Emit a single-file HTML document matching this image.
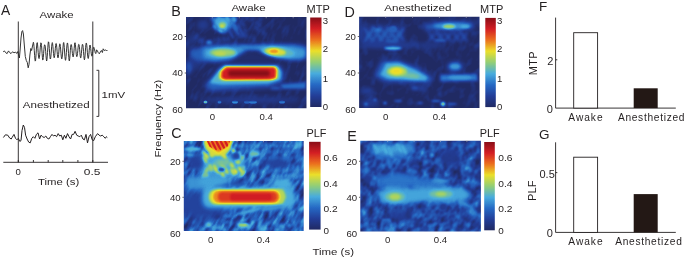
<!DOCTYPE html><html><head><meta charset="utf-8"><style>
html,body{margin:0;padding:0;background:#fff;}
svg{display:block;font-family:"Liberation Sans",sans-serif;will-change:transform;}
</style></head><body>
<svg width="685" height="258" viewBox="0 0 685 258">
<defs>
<filter id="jet" x="0" y="0" width="100%" height="100%" color-interpolation-filters="sRGB"><feComponentTransfer><feFuncR type="table" tableValues="0.129 0.137 0.149 0.282 0.569 0.925 0.925 0.831 0.541"/><feFuncG type="table" tableValues="0.165 0.243 0.412 0.675 0.808 0.878 0.439 0.118 0.055"/><feFuncB type="table" tableValues="0.392 0.596 0.769 0.871 0.471 0.165 0.118 0.141 0.094"/></feComponentTransfer></filter>
<filter id="g0.6" x="-100%" y="-100%" width="300%" height="300%" color-interpolation-filters="sRGB"><feGaussianBlur stdDeviation="0.6"/></filter><filter id="g0.8" x="-100%" y="-100%" width="300%" height="300%" color-interpolation-filters="sRGB"><feGaussianBlur stdDeviation="0.8"/></filter><filter id="g0.9" x="-100%" y="-100%" width="300%" height="300%" color-interpolation-filters="sRGB"><feGaussianBlur stdDeviation="0.9"/></filter><filter id="g1.0" x="-100%" y="-100%" width="300%" height="300%" color-interpolation-filters="sRGB"><feGaussianBlur stdDeviation="1.0"/></filter><filter id="g1" x="-100%" y="-100%" width="300%" height="300%" color-interpolation-filters="sRGB"><feGaussianBlur stdDeviation="1"/></filter><filter id="g1.1" x="-100%" y="-100%" width="300%" height="300%" color-interpolation-filters="sRGB"><feGaussianBlur stdDeviation="1.1"/></filter><filter id="g1.2" x="-100%" y="-100%" width="300%" height="300%" color-interpolation-filters="sRGB"><feGaussianBlur stdDeviation="1.2"/></filter><filter id="g1.3" x="-100%" y="-100%" width="300%" height="300%" color-interpolation-filters="sRGB"><feGaussianBlur stdDeviation="1.3"/></filter><filter id="g1.4" x="-100%" y="-100%" width="300%" height="300%" color-interpolation-filters="sRGB"><feGaussianBlur stdDeviation="1.4"/></filter><filter id="g1.5" x="-100%" y="-100%" width="300%" height="300%" color-interpolation-filters="sRGB"><feGaussianBlur stdDeviation="1.5"/></filter><filter id="g1.6" x="-100%" y="-100%" width="300%" height="300%" color-interpolation-filters="sRGB"><feGaussianBlur stdDeviation="1.6"/></filter><filter id="g1.8" x="-100%" y="-100%" width="300%" height="300%" color-interpolation-filters="sRGB"><feGaussianBlur stdDeviation="1.8"/></filter><filter id="g2" x="-100%" y="-100%" width="300%" height="300%" color-interpolation-filters="sRGB"><feGaussianBlur stdDeviation="2"/></filter><filter id="g2.2" x="-100%" y="-100%" width="300%" height="300%" color-interpolation-filters="sRGB"><feGaussianBlur stdDeviation="2.2"/></filter><filter id="g2.5" x="-100%" y="-100%" width="300%" height="300%" color-interpolation-filters="sRGB"><feGaussianBlur stdDeviation="2.5"/></filter><filter id="g3" x="-100%" y="-100%" width="300%" height="300%" color-interpolation-filters="sRGB"><feGaussianBlur stdDeviation="3"/></filter><filter id="g4" x="-100%" y="-100%" width="300%" height="300%" color-interpolation-filters="sRGB"><feGaussianBlur stdDeviation="4"/></filter>
<filter id="tB" x="0" y="0" width="100%" height="100%" color-interpolation-filters="sRGB"><feTurbulence type="fractalNoise" baseFrequency="0.08 0.2" numOctaves="2" seed="4"/><feColorMatrix type="matrix" values="1 0 0 0 0  1 0 0 0 0  1 0 0 0 0  0 0 0 0 1"/><feComponentTransfer><feFuncR type="linear" slope="0.25" intercept="-0.115"/><feFuncG type="linear" slope="0.25" intercept="-0.115"/><feFuncB type="linear" slope="0.25" intercept="-0.115"/></feComponentTransfer></filter>
<filter id="tC" x="0" y="0" width="100%" height="100%" color-interpolation-filters="sRGB"><feTurbulence type="fractalNoise" baseFrequency="0.08 0.2" numOctaves="2" seed="7"/><feColorMatrix type="matrix" values="1 0 0 0 0  1 0 0 0 0  1 0 0 0 0  0 0 0 0 1"/><feComponentTransfer><feFuncR type="linear" slope="0.65" intercept="-0.12"/><feFuncG type="linear" slope="0.65" intercept="-0.12"/><feFuncB type="linear" slope="0.65" intercept="-0.12"/></feComponentTransfer></filter>
<filter id="tD" x="0" y="0" width="100%" height="100%" color-interpolation-filters="sRGB"><feTurbulence type="fractalNoise" baseFrequency="0.1 0.14" numOctaves="2" seed="9"/><feColorMatrix type="matrix" values="1 0 0 0 0  1 0 0 0 0  1 0 0 0 0  0 0 0 0 1"/><feComponentTransfer><feFuncR type="linear" slope="0.25" intercept="-0.115"/><feFuncG type="linear" slope="0.25" intercept="-0.115"/><feFuncB type="linear" slope="0.25" intercept="-0.115"/></feComponentTransfer></filter>
<filter id="tE" x="0" y="0" width="100%" height="100%" color-interpolation-filters="sRGB"><feTurbulence type="fractalNoise" baseFrequency="0.11 0.15" numOctaves="2" seed="12"/><feColorMatrix type="matrix" values="1 0 0 0 0  1 0 0 0 0  1 0 0 0 0  0 0 0 0 1"/><feComponentTransfer><feFuncR type="linear" slope="0.5" intercept="-0.1"/><feFuncG type="linear" slope="0.5" intercept="-0.1"/><feFuncB type="linear" slope="0.5" intercept="-0.1"/></feComponentTransfer></filter>
<linearGradient id="cbar" x1="0" y1="1" x2="0" y2="0"><stop offset="0.0" stop-color="rgb(0,0,0)"/><stop offset="0.125" stop-color="rgb(32,32,32)"/><stop offset="0.25" stop-color="rgb(64,64,64)"/><stop offset="0.375" stop-color="rgb(96,96,96)"/><stop offset="0.5" stop-color="rgb(128,128,128)"/><stop offset="0.625" stop-color="rgb(159,159,159)"/><stop offset="0.75" stop-color="rgb(191,191,191)"/><stop offset="0.875" stop-color="rgb(223,223,223)"/><stop offset="1.0" stop-color="rgb(255,255,255)"/></linearGradient>
<clipPath id="cB"><rect x="186" y="17" width="120.5" height="91.2"/></clipPath>
<clipPath id="cC"><rect x="183.8" y="140.9" width="119.9" height="90.1"/></clipPath>
<clipPath id="cD"><rect x="359.1" y="16.7" width="120.4" height="91.4"/></clipPath>
<clipPath id="cE"><rect x="360.3" y="140.8" width="120.6" height="90.6"/></clipPath>
<clipPath id="cHot"><polygon points="206.5,140 230.5,140 227.5,146.5 218.5,152 209.5,146.5"/></clipPath>
</defs>
<rect width="685" height="258" fill="#fff"/>
<text x="1.0" y="14.7" font-size="13.8" fill="#231f20">A</text>
<text x="39.6" y="17.8" font-size="9.8" textLength="34.0" lengthAdjust="spacingAndGlyphs" fill="#231f20">Awake</text>
<text x="22.8" y="107.7" font-size="9.6" textLength="66.8" lengthAdjust="spacingAndGlyphs" fill="#231f20">Anesthetized</text>
<text x="101.6" y="98.35" font-size="9.5" textLength="23.6" lengthAdjust="spacingAndGlyphs" fill="#231f20">1mV</text>
<g stroke="#231f20" stroke-width="0.9" fill="none">
<line x1="18.3" y1="21.5" x2="18.3" y2="162.3"/>
<line x1="92.8" y1="21.5" x2="92.8" y2="162.3"/>
<path d="M96.5,70.3 H98.8 V116.4 H96.5"/>
<line x1="3.3" y1="162.3" x2="108" y2="162.3"/>
<line x1="18.3" y1="160" x2="18.3" y2="162.3"/>
<line x1="33.4" y1="160" x2="33.4" y2="162.3"/>
<line x1="48.2" y1="160" x2="48.2" y2="162.3"/>
<line x1="62.8" y1="160" x2="62.8" y2="162.3"/>
<line x1="77.9" y1="160" x2="77.9" y2="162.3"/>
<line x1="92.8" y1="160" x2="92.8" y2="162.3"/>
</g>
<polyline points="3.2,51.8 4.4,50.9 5.7,52.7 7.1,53.6 8.5,50.9 9.8,52.7 11.0,53.6 12.5,51.8 13.9,52.7 15.7,52.3 17.0,53.4 17.9,51.5 18.8,56.5 19.4,58.0 20.1,50.0 21.0,38.0 21.9,31.5 22.6,30.6 23.4,34.0 24.3,45.0 25.3,56.5 26.3,60.5 27.3,62.5 28.2,67.8 29.0,64.5 29.9,55.0 30.8,48.5 31.6,50.5 32.5,46.0 33.4,42.3 33.7,43.6 34.0,46.6 34.3,50.8 34.6,55.3 34.9,59.1 35.2,61.1 35.5,60.7 35.8,57.9 36.1,53.7 36.4,49.1 36.7,45.1 37.0,42.8 37.3,42.7 37.6,44.9 37.9,48.5 38.2,52.5 38.5,56.0 38.8,58.2 39.1,58.6 39.4,57.4 39.7,54.6 40.0,51.0 40.3,47.2 40.6,44.3 40.9,42.8 41.2,43.1 41.5,45.4 41.8,49.0 42.1,53.4 42.4,57.3 42.7,59.9 43.0,59.9 43.3,57.4 43.6,53.7 43.9,49.7 44.2,46.6 44.5,44.9 44.8,44.8 45.1,45.6 45.4,48.0 45.7,51.7 46.0,55.7 46.3,59.2 46.6,61.0 46.9,60.0 47.2,56.9 47.5,52.5 47.8,47.8 48.1,44.0 48.4,41.8 48.7,42.1 49.0,44.7 49.3,48.6 49.6,52.9 49.9,56.5 50.2,58.7 50.5,59.0 50.8,57.2 51.1,53.9 51.4,50.0 51.7,46.2 52.0,43.6 52.3,42.6 52.6,43.6 52.9,46.2 53.2,49.7 53.5,53.4 53.8,56.3 54.1,57.8 54.4,57.4 54.7,55.4 55.0,52.2 55.3,48.7 55.6,45.6 55.9,43.7 56.2,43.5 56.5,44.9 56.8,47.7 57.1,51.2 57.4,54.7 57.7,57.1 58.0,57.9 58.3,57.1 58.6,54.6 58.9,51.1 59.2,47.6 59.5,44.9 59.8,43.8 60.1,44.3 60.4,46.5 60.7,49.9 61.0,53.7 61.3,56.9 61.6,58.7 61.9,58.9 62.2,57.3 62.5,54.1 62.8,50.0 63.1,46.0 63.4,43.2 63.7,42.5 64.0,44.1 64.3,47.5 64.6,52.0 64.9,56.2 65.2,59.2 65.5,60.3 65.8,59.3 66.1,56.4 66.4,52.3 66.7,48.1 67.0,44.7 67.3,43.0 67.6,43.1 67.9,45.2 68.2,48.9 68.5,53.4 68.8,57.6 69.1,60.4 69.4,60.9 69.7,58.7 70.0,55.0 70.3,50.8 70.6,47.2 70.9,44.9 71.2,44.5 71.5,45.1 71.8,47.3 72.1,50.3 72.4,53.4 72.7,55.8 73.0,56.9 73.3,56.7 73.6,55.1 73.9,52.1 74.2,48.4 74.5,45.1 74.8,42.9 75.1,42.7 75.4,44.6 75.7,47.9 76.0,51.5 76.3,54.6 76.6,56.4 76.9,56.7 77.2,55.8 77.5,53.6 77.8,50.7 78.1,47.7 78.4,45.4 78.7,44.4 79.0,44.6 79.3,46.3 79.6,49.2 79.9,52.6 80.2,55.7 80.5,57.7 80.8,57.9 81.1,56.4 81.4,53.4 81.7,49.8 82.0,46.6 82.3,44.6 82.6,44.3 82.9,45.1 83.2,47.7 83.5,51.4 83.8,55.4 84.1,58.5 84.4,59.8 84.7,58.9 85.0,56.0 85.3,51.9 85.6,47.8 85.9,44.5 86.2,43.0 86.5,43.3 86.8,45.4 87.1,48.8 87.4,52.7 87.7,56.1 88.0,58.2 88.3,58.5 88.6,57.2 88.9,54.3 89.2,50.7 89.5,47.4 89.8,45.3 90.1,45.0 90.4,46.1 90.7,48.4 91.0,51.3 91.3,53.9 91.6,55.7 91.9,56.2 92.2,55.5 92.5,53.8 92.8,51.7 93.1,49.6 93.4,48.1 93.7,47.3 94.0,47.4 94.3,48.4 94.6,49.9 94.9,51.3 95.2,52.6 95.5,53.3 95.8,53.6 96.6,49.8 97.2,50.5 98.2,52.5 99.3,53.8 100.3,52.0 101.4,50.5 102.4,52.5 103.2,48.8 104.4,50.6 105.5,49.8 106.6,51.0 107.3,50.2" fill="none" stroke="#2a2a2a" stroke-width="0.95" stroke-linejoin="round"/>
<polyline points="3.4,137.5 5.4,134.8 7.8,135.2 9.6,138.0 11.2,139.0 12.1,137.5 14.0,134.4 15.5,138.3 17.0,139.8 18.3,138.3 19.8,141.4 21.0,140.6 22.0,130.5 23.3,125.0 24.5,127.4 25.6,135.2 27.1,139.0 28.7,142.1 30.2,142.9 31.8,138.3 33.3,136.7 34.9,138.3 36.4,134.4 38.0,132.8 39.6,139.0 41.0,135.2 42.6,136.7 44.2,137.5 45.8,136.0 47.3,138.3 48.9,139.0 50.4,136.7 52.0,134.4 53.5,136.0 55.0,135.2 56.6,136.7 58.2,133.6 59.7,136.0 61.3,135.2 62.8,139.8 64.4,135.2 65.9,138.3 67.5,133.6 69.0,136.7 70.6,139.0 72.1,134.4 73.6,134.4 75.1,131.3 76.7,135.2 78.2,136.0 79.8,136.7 81.3,135.2 82.9,139.0 84.4,139.8 86.0,134.4 87.5,142.9 89.0,136.7 90.6,134.4 92.2,139.8 93.7,140.6 95.3,136.7 97.6,133.6 99.1,135.2 100.7,136.0 102.2,135.2 103.8,136.7 105.3,138.3 106.4,136.7 107.3,137.5" fill="none" stroke="#231f20" stroke-width="1" stroke-linejoin="round"/>
<text x="18.1" y="175.3" font-size="9.6" text-anchor="middle" fill="#231f20">0</text>
<text x="83.8" y="175.3" font-size="9.6" textLength="16.6" lengthAdjust="spacingAndGlyphs" fill="#231f20">0.5</text>
<text x="38.0" y="184.8" font-size="9.8" textLength="41.2" lengthAdjust="spacingAndGlyphs" fill="#231f20">Time (s)</text>
<g clip-path="url(#cB)"><g filter="url(#jet)">
<rect x="181" y="12" width="130.5" height="101.2" fill="rgb(5,5,5)"/>
<rect x="156.25" y="-27.4" width="180" height="180" fill="#000" filter="url(#tB)" transform="rotate(-60 246.25 62.6)"/>
<ellipse cx="203" cy="25" rx="6" ry="5" fill="rgb(26,26,26)" filter="url(#g2)"/>
<ellipse cx="192" cy="40" rx="4" ry="6" fill="rgb(18,18,18)" filter="url(#g2)"/>
<ellipse cx="196" cy="62" rx="6" ry="8" fill="rgb(20,20,20)" filter="url(#g2.5)"/>
<ellipse cx="254.0" cy="39.8" rx="3.3" ry="1.4" fill="rgb(31,31,31)" filter="url(#g1.4)" transform="rotate(69.1 254.0 39.8)"/>
<ellipse cx="223.6" cy="29.0" rx="2.6" ry="1.4" fill="rgb(27,27,27)" filter="url(#g1.4)" transform="rotate(73.1 223.6 29.0)"/>
<ellipse cx="243.0" cy="24.3" rx="3.2" ry="1.4" fill="rgb(45,45,45)" filter="url(#g1.4)" transform="rotate(61.6 243.0 24.3)"/>
<ellipse cx="256.8" cy="28.6" rx="3.2" ry="1.4" fill="rgb(39,39,39)" filter="url(#g1.4)" transform="rotate(56.1 256.8 28.6)"/>
<ellipse cx="236.0" cy="25.3" rx="3.8" ry="1.4" fill="rgb(27,27,27)" filter="url(#g1.4)" transform="rotate(63.3 236.0 25.3)"/>
<ellipse cx="258.6" cy="24.1" rx="3.8" ry="1.4" fill="rgb(43,43,43)" filter="url(#g1.4)" transform="rotate(58.6 258.6 24.1)"/>
<ellipse cx="246.9" cy="18.0" rx="3.3" ry="1.4" fill="rgb(34,34,34)" filter="url(#g1.4)" transform="rotate(51.6 246.9 18.0)"/>
<ellipse cx="219.4" cy="39.8" rx="3.0" ry="1.4" fill="rgb(29,29,29)" filter="url(#g1.4)" transform="rotate(51.1 219.4 39.8)"/>
<ellipse cx="228.3" cy="39.6" rx="2.9" ry="1.4" fill="rgb(32,32,32)" filter="url(#g1.4)" transform="rotate(51.2 228.3 39.6)"/>
<ellipse cx="232.5" cy="31.7" rx="2.9" ry="1.4" fill="rgb(26,26,26)" filter="url(#g1.4)" transform="rotate(58.0 232.5 31.7)"/>
<ellipse cx="202.2" cy="40.8" rx="3.1" ry="1.4" fill="rgb(45,45,45)" filter="url(#g1.4)" transform="rotate(57.3 202.2 40.8)"/>
<ellipse cx="263.4" cy="33.0" rx="2.9" ry="1.4" fill="rgb(41,41,41)" filter="url(#g1.4)" transform="rotate(65.1 263.4 33.0)"/>
<ellipse cx="245.3" cy="30.5" rx="2.8" ry="1.4" fill="rgb(39,39,39)" filter="url(#g1.4)" transform="rotate(70.8 245.3 30.5)"/>
<ellipse cx="245.8" cy="35.2" rx="3.1" ry="1.4" fill="rgb(42,42,42)" filter="url(#g1.4)" transform="rotate(57.1 245.8 35.2)"/>
<ellipse cx="224.1" cy="39.5" rx="3.1" ry="1.4" fill="rgb(40,40,40)" filter="url(#g1.4)" transform="rotate(67.2 224.1 39.5)"/>
<ellipse cx="263.8" cy="44.8" rx="3.6" ry="1.4" fill="rgb(42,42,42)" filter="url(#g1.4)" transform="rotate(57.1 263.8 44.8)"/>
<ellipse cx="234.7" cy="27.3" rx="3.1" ry="1.4" fill="rgb(33,33,33)" filter="url(#g1.4)" transform="rotate(-70.1 234.7 27.3)"/>
<ellipse cx="241.6" cy="36.2" rx="3.0" ry="1.4" fill="rgb(39,39,39)" filter="url(#g1.4)" transform="rotate(-48.0 241.6 36.2)"/>
<ellipse cx="199.7" cy="41.0" rx="2.5" ry="1.4" fill="rgb(45,45,45)" filter="url(#g1.4)" transform="rotate(-66.8 199.7 41.0)"/>
<ellipse cx="252.5" cy="19.3" rx="2.8" ry="1.4" fill="rgb(43,43,43)" filter="url(#g1.4)" transform="rotate(-45.6 252.5 19.3)"/>
<ellipse cx="241.2" cy="21.3" rx="2.8" ry="1.4" fill="rgb(36,36,36)" filter="url(#g1.4)" transform="rotate(-59.3 241.2 21.3)"/>
<ellipse cx="234.9" cy="20.9" rx="3.8" ry="1.4" fill="rgb(28,28,28)" filter="url(#g1.4)" transform="rotate(-66.9 234.9 20.9)"/>
<ellipse cx="238.3" cy="26.6" rx="3.1" ry="1.4" fill="rgb(44,44,44)" filter="url(#g1.4)" transform="rotate(-52.8 238.3 26.6)"/>
<ellipse cx="234.8" cy="44.2" rx="2.9" ry="1.4" fill="rgb(44,44,44)" filter="url(#g1.4)" transform="rotate(-65.4 234.8 44.2)"/>
<ellipse cx="218.5" cy="41.8" rx="2.6" ry="1.4" fill="rgb(43,43,43)" filter="url(#g1.4)" transform="rotate(-62.9 218.5 41.8)"/>
<ellipse cx="260.4" cy="19.6" rx="2.9" ry="1.4" fill="rgb(41,41,41)" filter="url(#g1.4)" transform="rotate(-54.4 260.4 19.6)"/>
<ellipse cx="196.4" cy="36.7" rx="3.7" ry="1.4" fill="rgb(45,45,45)" filter="url(#g1.4)" transform="rotate(-61.9 196.4 36.7)"/>
<ellipse cx="214.1" cy="40.7" rx="2.6" ry="1.4" fill="rgb(31,31,31)" filter="url(#g1.4)" transform="rotate(-55.0 214.1 40.7)"/>
<ellipse cx="209" cy="42.5" rx="3" ry="2.5" fill="rgb(76,76,76)" filter="url(#g1)"/>
<polygon points="210,17 238,17 233,27 225,34 216,31" fill="rgb(71,71,71)" filter="url(#g1.8)"/>
<ellipse cx="220.5" cy="30.8" rx="3.0" ry="1.3" fill="rgb(107,107,107)" filter="url(#g1)" transform="rotate(41.5 220.5 30.8)"/>
<ellipse cx="222.0" cy="23.1" rx="3.1" ry="1.3" fill="rgb(90,90,90)" filter="url(#g1)" transform="rotate(71.1 222.0 23.1)"/>
<ellipse cx="218.6" cy="20.6" rx="2.8" ry="1.3" fill="rgb(92,92,92)" filter="url(#g1)" transform="rotate(54.8 218.6 20.6)"/>
<ellipse cx="222.7" cy="20.6" rx="3.4" ry="1.3" fill="rgb(102,102,102)" filter="url(#g1)" transform="rotate(57.6 222.7 20.6)"/>
<ellipse cx="234.0" cy="19.1" rx="3.1" ry="1.3" fill="rgb(94,94,94)" filter="url(#g1)" transform="rotate(59.1 234.0 19.1)"/>
<ellipse cx="217.2" cy="22.5" rx="3.1" ry="1.3" fill="rgb(103,103,103)" filter="url(#g1)" transform="rotate(72.4 217.2 22.5)"/>
<ellipse cx="227.0" cy="20.1" rx="2.7" ry="1.3" fill="rgb(95,95,95)" filter="url(#g1)" transform="rotate(55.9 227.0 20.1)"/>
<ellipse cx="221.4" cy="23.4" rx="3.6" ry="1.3" fill="rgb(109,109,109)" filter="url(#g1)" transform="rotate(50.1 221.4 23.4)"/>
<ellipse cx="235.0" cy="27.1" rx="4.0" ry="1.3" fill="rgb(90,90,90)" filter="url(#g1)" transform="rotate(60.0 235.0 27.1)"/>
<ellipse cx="224.6" cy="27.5" rx="3.0" ry="1.3" fill="rgb(98,98,98)" filter="url(#g1)" transform="rotate(58.7 224.6 27.5)"/>
<ellipse cx="223.3" cy="24.1" rx="3.3" ry="1.3" fill="rgb(105,105,105)" filter="url(#g1)" transform="rotate(77.0 223.3 24.1)"/>
<ellipse cx="227.5" cy="18.3" rx="3.4" ry="1.3" fill="rgb(98,98,98)" filter="url(#g1)" transform="rotate(59.1 227.5 18.3)"/>
<ellipse cx="218.9" cy="17.9" rx="3.1" ry="1.3" fill="rgb(97,97,97)" filter="url(#g1)" transform="rotate(74.1 218.9 17.9)"/>
<ellipse cx="214.6" cy="27.0" rx="3.0" ry="1.3" fill="rgb(94,94,94)" filter="url(#g1)" transform="rotate(61.5 214.6 27.0)"/>
<ellipse cx="223" cy="23.5" rx="6" ry="5" fill="rgb(92,92,92)" filter="url(#g1.5)"/>
<ellipse cx="222.5" cy="25" rx="3.8" ry="3" fill="rgb(128,128,128)" filter="url(#g1)"/>
<ellipse cx="222" cy="26.3" rx="2" ry="1.3" fill="rgb(158,158,158)" filter="url(#g0.8)"/>
<ellipse cx="236" cy="30" rx="1.5" ry="7" fill="rgb(56,56,56)" filter="url(#g1)" transform="rotate(-30 236 30)"/>
<ellipse cx="241" cy="31" rx="1.2" ry="8" fill="rgb(46,46,46)" filter="url(#g1)" transform="rotate(-30 241 31)"/>
<ellipse cx="231" cy="34" rx="1.2" ry="6" fill="rgb(51,51,51)" filter="url(#g1)" transform="rotate(-30 231 34)"/>
<polygon points="190,50 205,45.5 245,44.5 300,44.5 306,46 306,59 292,60 262,51 246,51 232,61 200,62 190,58" fill="rgb(56,56,56)" filter="url(#g2)"/>
<ellipse cx="252" cy="65" rx="22" ry="13" fill="rgb(5,5,5)" filter="url(#g2.5)"/>
<polygon points="203,48 225,46 245,46.5 246,50 234,58 215,61 203,58" fill="rgb(87,87,87)" filter="url(#g2.2)"/>
<ellipse cx="222" cy="53" rx="15" ry="4.5" fill="rgb(102,102,102)" filter="url(#g1.8)"/>
<ellipse cx="223" cy="52.5" rx="12.5" ry="3.6" fill="rgb(133,133,133)" filter="url(#g1.5)"/>
<ellipse cx="220" cy="53.5" rx="6" ry="2.2" fill="rgb(143,143,143)" filter="url(#g1)"/>
<polygon points="240,45.5 266,45.5 262,49.5 245,49.5" fill="rgb(76,76,76)" filter="url(#g1.5)"/>
<polygon points="256,48 270,45 292,46 306,49 306,57 300,59 288,59.5 270,56" fill="rgb(87,87,87)" filter="url(#g2.2)"/>
<ellipse cx="278" cy="52" rx="17" ry="5" fill="rgb(105,105,105)" filter="url(#g1.8)" transform="rotate(6 278 52)"/>
<ellipse cx="275.5" cy="51.8" rx="10.5" ry="3.8" fill="rgb(153,153,153)" filter="url(#g1.3)" transform="rotate(6 275.5 51.8)"/>
<ellipse cx="274" cy="51.3" rx="4.5" ry="2" fill="rgb(184,184,184)" filter="url(#g1)"/>
<ellipse cx="189" cy="67" rx="3" ry="7" fill="rgb(56,56,56)" filter="url(#g2)"/>
<polygon points="204,86 214,75 222,65.5 279,65.5 284,72 283,81 270,87 240,89 212,91" fill="rgb(61,61,61)" filter="url(#g2.5)"/>
<polygon points="209,83 219,70 224,65.6 278,65.8 281.5,72 280.5,80 268,83.5 222,84.5" fill="rgb(102,102,102)" filter="url(#g1.5)"/>
<polygon points="219.5,72 225,66.6 276,66.6 277.8,70 277.3,78.5 272,80 222,80.2 219,78" fill="rgb(163,163,163)" filter="url(#g0.8)"/>
<polygon points="222,71.5 226.5,67.5 274,67.5 275.8,70 275.3,77.8 270,79.3 225,79.5 221.5,77.5" fill="rgb(224,224,224)" filter="url(#g0.9)"/>
<rect x="228" y="70.2" width="42" height="6.2" rx="3" fill="rgb(255,255,255)" filter="url(#g1.5)"/>
<polygon points="280,84 306,82 306,89 282,89" fill="rgb(66,66,66)" filter="url(#g1.5)"/>
<ellipse cx="276" cy="88" rx="6" ry="2" fill="rgb(51,51,51)" filter="url(#g1.5)"/>
<ellipse cx="205.5" cy="102" rx="2" ry="1.6" fill="rgb(140,140,140)" filter="url(#g0.6)"/>
<ellipse cx="219.5" cy="102" rx="2" ry="1.5" fill="rgb(102,102,102)" filter="url(#g0.6)"/>
<ellipse cx="235" cy="102" rx="3" ry="1.5" fill="rgb(153,153,153)" filter="url(#g0.6)"/>
<ellipse cx="247" cy="102" rx="3" ry="1.5" fill="rgb(107,107,107)" filter="url(#g0.6)"/>
<ellipse cx="253" cy="102" rx="4" ry="1.6" fill="rgb(140,140,140)" filter="url(#g0.6)"/>
<ellipse cx="282" cy="102" rx="3" ry="1.5" fill="rgb(102,102,102)" filter="url(#g0.6)"/>
<ellipse cx="250" cy="100" rx="50" ry="3" fill="rgb(26,26,26)" filter="url(#g2)"/>
</g></g>
<g clip-path="url(#cC)"><g filter="url(#jet)">
<rect x="178.8" y="135.9" width="129.9" height="100.1" fill="rgb(51,51,51)"/>
<rect x="153.75" y="95.94999999999999" width="180" height="180" fill="#000" filter="url(#tC)" transform="rotate(-60 243.75 185.95)"/>
<ellipse cx="200" cy="205" rx="25" ry="15" fill="rgb(36,36,36)" filter="url(#g4)"/>
<ellipse cx="276" cy="163" rx="14" ry="8" fill="rgb(36,36,36)" filter="url(#g3)"/>
<ellipse cx="196" cy="160" rx="8" ry="6" fill="rgb(33,33,33)" filter="url(#g2.5)"/>
<ellipse cx="256.1" cy="183.7" rx="2.2" ry="1.2" fill="rgb(68,68,68)" filter="url(#g1)" transform="rotate(-47.0 256.1 183.7)"/>
<ellipse cx="254.8" cy="176.8" rx="2.1" ry="1.2" fill="rgb(84,84,84)" filter="url(#g1)" transform="rotate(-52.0 254.8 176.8)"/>
<ellipse cx="240.2" cy="173.5" rx="2.1" ry="1.2" fill="rgb(70,70,70)" filter="url(#g1)" transform="rotate(-67.3 240.2 173.5)"/>
<ellipse cx="269.0" cy="171.7" rx="2.9" ry="1.2" fill="rgb(70,70,70)" filter="url(#g1)" transform="rotate(-55.1 269.0 171.7)"/>
<ellipse cx="282.9" cy="183.7" rx="2.9" ry="1.2" fill="rgb(84,84,84)" filter="url(#g1)" transform="rotate(-64.8 282.9 183.7)"/>
<ellipse cx="299.9" cy="176.2" rx="2.9" ry="1.2" fill="rgb(73,73,73)" filter="url(#g1)" transform="rotate(-72.8 299.9 176.2)"/>
<ellipse cx="290.8" cy="176.5" rx="2.8" ry="1.2" fill="rgb(68,68,68)" filter="url(#g1)" transform="rotate(-61.2 290.8 176.5)"/>
<ellipse cx="288.9" cy="160.5" rx="2.9" ry="1.2" fill="rgb(67,67,67)" filter="url(#g1)" transform="rotate(-45.4 288.9 160.5)"/>
<ellipse cx="266.8" cy="168.1" rx="2.2" ry="1.2" fill="rgb(82,82,82)" filter="url(#g1)" transform="rotate(-55.2 266.8 168.1)"/>
<ellipse cx="286.6" cy="175.0" rx="2.7" ry="1.2" fill="rgb(76,76,76)" filter="url(#g1)" transform="rotate(-55.6 286.6 175.0)"/>
<ellipse cx="298.0" cy="167.1" rx="2.2" ry="1.2" fill="rgb(85,85,85)" filter="url(#g1)" transform="rotate(-50.1 298.0 167.1)"/>
<ellipse cx="270.5" cy="180.0" rx="2.7" ry="1.2" fill="rgb(85,85,85)" filter="url(#g1)" transform="rotate(-42.0 270.5 180.0)"/>
<ellipse cx="297.5" cy="172.5" rx="2.4" ry="1.2" fill="rgb(80,80,80)" filter="url(#g1)" transform="rotate(-72.4 297.5 172.5)"/>
<ellipse cx="267.9" cy="167.3" rx="2.9" ry="1.2" fill="rgb(83,83,83)" filter="url(#g1)" transform="rotate(-75.1 267.9 167.3)"/>
<ellipse cx="265.9" cy="179.1" rx="2.9" ry="1.2" fill="rgb(86,86,86)" filter="url(#g1)" transform="rotate(-50.2 265.9 179.1)"/>
<ellipse cx="297.1" cy="177.4" rx="2.1" ry="1.2" fill="rgb(69,69,69)" filter="url(#g1)" transform="rotate(-58.1 297.1 177.4)"/>
<ellipse cx="245.0" cy="177.2" rx="2.3" ry="1.2" fill="rgb(80,80,80)" filter="url(#g1)" transform="rotate(-53.5 245.0 177.2)"/>
<ellipse cx="295.8" cy="177.4" rx="2.8" ry="1.2" fill="rgb(78,78,78)" filter="url(#g1)" transform="rotate(-72.1 295.8 177.4)"/>
<ellipse cx="236.1" cy="145.5" rx="1.2" ry="2.8" fill="rgb(101,101,101)" filter="url(#g1)" transform="rotate(20 236.1 145.5)"/>
<ellipse cx="239.4" cy="146.1" rx="1.2" ry="2.8" fill="rgb(98,98,98)" filter="url(#g1)" transform="rotate(20 239.4 146.1)"/>
<ellipse cx="243.1" cy="144.8" rx="1.2" ry="2.8" fill="rgb(90,90,90)" filter="url(#g1)" transform="rotate(20 243.1 144.8)"/>
<ellipse cx="247.0" cy="146.1" rx="1.2" ry="2.8" fill="rgb(92,92,92)" filter="url(#g1)" transform="rotate(20 247.0 146.1)"/>
<ellipse cx="250.8" cy="145.2" rx="1.2" ry="2.8" fill="rgb(85,85,85)" filter="url(#g1)" transform="rotate(20 250.8 145.2)"/>
<ellipse cx="255.0" cy="145.1" rx="1.2" ry="2.8" fill="rgb(101,101,101)" filter="url(#g1)" transform="rotate(20 255.0 145.1)"/>
<ellipse cx="258.4" cy="145.6" rx="1.2" ry="2.8" fill="rgb(96,96,96)" filter="url(#g1)" transform="rotate(20 258.4 145.6)"/>
<ellipse cx="262.2" cy="145.7" rx="1.2" ry="2.8" fill="rgb(91,91,91)" filter="url(#g1)" transform="rotate(20 262.2 145.7)"/>
<ellipse cx="266.2" cy="145.2" rx="1.2" ry="2.8" fill="rgb(100,100,100)" filter="url(#g1)" transform="rotate(20 266.2 145.2)"/>
<ellipse cx="270.3" cy="145.4" rx="1.2" ry="2.8" fill="rgb(99,99,99)" filter="url(#g1)" transform="rotate(20 270.3 145.4)"/>
<ellipse cx="273.6" cy="145.2" rx="1.2" ry="2.8" fill="rgb(99,99,99)" filter="url(#g1)" transform="rotate(20 273.6 145.2)"/>
<ellipse cx="277.0" cy="146.3" rx="1.2" ry="2.8" fill="rgb(102,102,102)" filter="url(#g1)" transform="rotate(20 277.0 146.3)"/>
<ellipse cx="280.7" cy="145.5" rx="1.2" ry="2.8" fill="rgb(85,85,85)" filter="url(#g1)" transform="rotate(20 280.7 145.5)"/>
<ellipse cx="284.3" cy="145.5" rx="1.2" ry="2.8" fill="rgb(85,85,85)" filter="url(#g1)" transform="rotate(20 284.3 145.5)"/>
<ellipse cx="288.5" cy="146.2" rx="1.2" ry="2.8" fill="rgb(98,98,98)" filter="url(#g1)" transform="rotate(20 288.5 146.2)"/>
<ellipse cx="292.3" cy="145.5" rx="1.2" ry="2.8" fill="rgb(91,91,91)" filter="url(#g1)" transform="rotate(20 292.3 145.5)"/>
<ellipse cx="296.3" cy="145.8" rx="1.2" ry="2.8" fill="rgb(99,99,99)" filter="url(#g1)" transform="rotate(20 296.3 145.8)"/>
<ellipse cx="299.3" cy="145.2" rx="1.2" ry="2.8" fill="rgb(98,98,98)" filter="url(#g1)" transform="rotate(20 299.3 145.2)"/>
<ellipse cx="239.7" cy="151.9" rx="1.2" ry="2.6" fill="rgb(82,82,82)" filter="url(#g1)" transform="rotate(20 239.7 151.9)"/>
<ellipse cx="243.2" cy="150.8" rx="1.2" ry="2.6" fill="rgb(80,80,80)" filter="url(#g1)" transform="rotate(20 243.2 150.8)"/>
<ellipse cx="247.4" cy="151.5" rx="1.2" ry="2.6" fill="rgb(81,81,81)" filter="url(#g1)" transform="rotate(20 247.4 151.5)"/>
<ellipse cx="251.5" cy="151.9" rx="1.2" ry="2.6" fill="rgb(74,74,74)" filter="url(#g1)" transform="rotate(20 251.5 151.9)"/>
<ellipse cx="255.3" cy="151.7" rx="1.2" ry="2.6" fill="rgb(79,79,79)" filter="url(#g1)" transform="rotate(20 255.3 151.7)"/>
<ellipse cx="258.9" cy="151.0" rx="1.2" ry="2.6" fill="rgb(69,69,69)" filter="url(#g1)" transform="rotate(20 258.9 151.0)"/>
<ellipse cx="262.5" cy="151.4" rx="1.2" ry="2.6" fill="rgb(83,83,83)" filter="url(#g1)" transform="rotate(20 262.5 151.4)"/>
<ellipse cx="266.6" cy="151.4" rx="1.2" ry="2.6" fill="rgb(72,72,72)" filter="url(#g1)" transform="rotate(20 266.6 151.4)"/>
<ellipse cx="269.9" cy="151.8" rx="1.2" ry="2.6" fill="rgb(82,82,82)" filter="url(#g1)" transform="rotate(20 269.9 151.8)"/>
<ellipse cx="273.9" cy="151.7" rx="1.2" ry="2.6" fill="rgb(65,65,65)" filter="url(#g1)" transform="rotate(20 273.9 151.7)"/>
<ellipse cx="277.4" cy="151.2" rx="1.2" ry="2.6" fill="rgb(81,81,81)" filter="url(#g1)" transform="rotate(20 277.4 151.2)"/>
<ellipse cx="281.4" cy="152.1" rx="1.2" ry="2.6" fill="rgb(72,72,72)" filter="url(#g1)" transform="rotate(20 281.4 152.1)"/>
<ellipse cx="284.7" cy="151.1" rx="1.2" ry="2.6" fill="rgb(67,67,67)" filter="url(#g1)" transform="rotate(20 284.7 151.1)"/>
<ellipse cx="289.0" cy="151.8" rx="1.2" ry="2.6" fill="rgb(79,79,79)" filter="url(#g1)" transform="rotate(20 289.0 151.8)"/>
<ellipse cx="292.6" cy="151.6" rx="1.2" ry="2.6" fill="rgb(83,83,83)" filter="url(#g1)" transform="rotate(20 292.6 151.6)"/>
<ellipse cx="296.5" cy="151.6" rx="1.2" ry="2.6" fill="rgb(70,70,70)" filter="url(#g1)" transform="rotate(20 296.5 151.6)"/>
<ellipse cx="300.0" cy="151.6" rx="1.2" ry="2.6" fill="rgb(68,68,68)" filter="url(#g1)" transform="rotate(20 300.0 151.6)"/>
<ellipse cx="262.2" cy="157.7" rx="1.1" ry="2.4" fill="rgb(69,69,69)" filter="url(#g1)" transform="rotate(20 262.2 157.7)"/>
<ellipse cx="265.2" cy="158.5" rx="1.1" ry="2.4" fill="rgb(73,73,73)" filter="url(#g1)" transform="rotate(20 265.2 158.5)"/>
<ellipse cx="269.6" cy="157.6" rx="1.1" ry="2.4" fill="rgb(71,71,71)" filter="url(#g1)" transform="rotate(20 269.6 157.6)"/>
<ellipse cx="273.5" cy="157.9" rx="1.1" ry="2.4" fill="rgb(65,65,65)" filter="url(#g1)" transform="rotate(20 273.5 157.9)"/>
<ellipse cx="276.9" cy="157.6" rx="1.1" ry="2.4" fill="rgb(62,62,62)" filter="url(#g1)" transform="rotate(20 276.9 157.6)"/>
<ellipse cx="280.6" cy="158.3" rx="1.1" ry="2.4" fill="rgb(56,56,56)" filter="url(#g1)" transform="rotate(20 280.6 158.3)"/>
<ellipse cx="284.4" cy="158.8" rx="1.1" ry="2.4" fill="rgb(73,73,73)" filter="url(#g1)" transform="rotate(20 284.4 158.8)"/>
<ellipse cx="287.8" cy="158.2" rx="1.1" ry="2.4" fill="rgb(75,75,75)" filter="url(#g1)" transform="rotate(20 287.8 158.2)"/>
<ellipse cx="292.1" cy="158.5" rx="1.1" ry="2.4" fill="rgb(76,76,76)" filter="url(#g1)" transform="rotate(20 292.1 158.5)"/>
<ellipse cx="295.8" cy="157.0" rx="1.1" ry="2.4" fill="rgb(72,72,72)" filter="url(#g1)" transform="rotate(20 295.8 157.0)"/>
<ellipse cx="299.6" cy="157.4" rx="1.1" ry="2.4" fill="rgb(62,62,62)" filter="url(#g1)" transform="rotate(20 299.6 157.4)"/>
<ellipse cx="272.0" cy="170.2" rx="1.2" ry="2.6" fill="rgb(74,74,74)" filter="url(#g1)" transform="rotate(20 272.0 170.2)"/>
<ellipse cx="276.0" cy="170.3" rx="1.2" ry="2.6" fill="rgb(94,94,94)" filter="url(#g1)" transform="rotate(20 276.0 170.3)"/>
<ellipse cx="279.2" cy="170.2" rx="1.2" ry="2.6" fill="rgb(75,75,75)" filter="url(#g1)" transform="rotate(20 279.2 170.2)"/>
<ellipse cx="283.5" cy="170.1" rx="1.2" ry="2.6" fill="rgb(85,85,85)" filter="url(#g1)" transform="rotate(20 283.5 170.1)"/>
<ellipse cx="287.1" cy="170.4" rx="1.2" ry="2.6" fill="rgb(93,93,93)" filter="url(#g1)" transform="rotate(20 287.1 170.4)"/>
<ellipse cx="290.5" cy="170.1" rx="1.2" ry="2.6" fill="rgb(72,72,72)" filter="url(#g1)" transform="rotate(20 290.5 170.1)"/>
<ellipse cx="294.7" cy="170.4" rx="1.2" ry="2.6" fill="rgb(83,83,83)" filter="url(#g1)" transform="rotate(20 294.7 170.4)"/>
<ellipse cx="298.1" cy="170.3" rx="1.2" ry="2.6" fill="rgb(91,91,91)" filter="url(#g1)" transform="rotate(20 298.1 170.3)"/>
<ellipse cx="302.2" cy="169.6" rx="1.2" ry="2.6" fill="rgb(76,76,76)" filter="url(#g1)" transform="rotate(20 302.2 169.6)"/>
<ellipse cx="277.8" cy="176.1" rx="1.2" ry="2.6" fill="rgb(88,88,88)" filter="url(#g1)" transform="rotate(20 277.8 176.1)"/>
<ellipse cx="281.7" cy="176.1" rx="1.2" ry="2.6" fill="rgb(93,93,93)" filter="url(#g1)" transform="rotate(20 281.7 176.1)"/>
<ellipse cx="285.7" cy="175.6" rx="1.2" ry="2.6" fill="rgb(93,93,93)" filter="url(#g1)" transform="rotate(20 285.7 175.6)"/>
<ellipse cx="289.2" cy="175.7" rx="1.2" ry="2.6" fill="rgb(90,90,90)" filter="url(#g1)" transform="rotate(20 289.2 175.7)"/>
<ellipse cx="292.9" cy="175.5" rx="1.2" ry="2.6" fill="rgb(91,91,91)" filter="url(#g1)" transform="rotate(20 292.9 175.5)"/>
<ellipse cx="296.8" cy="176.4" rx="1.2" ry="2.6" fill="rgb(86,86,86)" filter="url(#g1)" transform="rotate(20 296.8 176.4)"/>
<ellipse cx="300.7" cy="175.8" rx="1.2" ry="2.6" fill="rgb(78,78,78)" filter="url(#g1)" transform="rotate(20 300.7 175.8)"/>
<ellipse cx="255" cy="154" rx="6" ry="3" fill="rgb(115,115,115)" filter="url(#g1.5)"/>
<ellipse cx="193" cy="149" rx="9" ry="2.2" fill="rgb(102,102,102)" filter="url(#g1.2)"/>
<ellipse cx="190" cy="155" rx="4" ry="2" fill="rgb(84,84,84)" filter="url(#g1.2)"/>
<ellipse cx="222" cy="166" rx="24" ry="14" fill="rgb(92,92,92)" filter="url(#g3)"/>
<ellipse cx="214" cy="180" rx="14" ry="6" fill="rgb(87,87,87)" filter="url(#g2.5)"/>
<polygon points="186,176 214,176 212,190 186,190" fill="rgb(84,84,84)" filter="url(#g2)"/>
<ellipse cx="237.2" cy="159.7" rx="3.9" ry="1.8" fill="rgb(160,160,160)" filter="url(#g1.0)" transform="rotate(57.2 237.2 159.7)"/>
<ellipse cx="225.9" cy="170.6" rx="3.9" ry="1.8" fill="rgb(150,150,150)" filter="url(#g1.0)" transform="rotate(52.9 225.9 170.6)"/>
<ellipse cx="233.9" cy="151.7" rx="3.8" ry="1.8" fill="rgb(157,157,157)" filter="url(#g1.0)" transform="rotate(59.1 233.9 151.7)"/>
<ellipse cx="224.3" cy="156.2" rx="3.8" ry="1.8" fill="rgb(162,162,162)" filter="url(#g1.0)" transform="rotate(54.8 224.3 156.2)"/>
<ellipse cx="222.5" cy="174.1" rx="3.6" ry="1.8" fill="rgb(148,148,148)" filter="url(#g1.0)" transform="rotate(63.3 222.5 174.1)"/>
<ellipse cx="205.2" cy="154.2" rx="4.2" ry="1.8" fill="rgb(142,142,142)" filter="url(#g1.0)" transform="rotate(54.6 205.2 154.2)"/>
<ellipse cx="241.1" cy="170.3" rx="4.5" ry="1.8" fill="rgb(157,157,157)" filter="url(#g1.0)" transform="rotate(51.9 241.1 170.3)"/>
<ellipse cx="217.8" cy="170.4" rx="2.8" ry="1.8" fill="rgb(159,159,159)" filter="url(#g1.0)" transform="rotate(73.0 217.8 170.4)"/>
<ellipse cx="211.7" cy="155.0" rx="2.8" ry="1.8" fill="rgb(159,159,159)" filter="url(#g1.0)" transform="rotate(62.6 211.7 155.0)"/>
<ellipse cx="215.2" cy="167.7" rx="3.9" ry="1.8" fill="rgb(155,155,155)" filter="url(#g1.0)" transform="rotate(68.5 215.2 167.7)"/>
<ellipse cx="237.8" cy="161.6" rx="2.6" ry="1.8" fill="rgb(144,144,144)" filter="url(#g1.0)" transform="rotate(55.0 237.8 161.6)"/>
<ellipse cx="235.4" cy="171.4" rx="2.9" ry="1.8" fill="rgb(162,162,162)" filter="url(#g1.0)" transform="rotate(63.6 235.4 171.4)"/>
<ellipse cx="222.6" cy="165.7" rx="4.5" ry="1.8" fill="rgb(161,161,161)" filter="url(#g1.0)" transform="rotate(58.1 222.6 165.7)"/>
<ellipse cx="239.7" cy="155.5" rx="4.1" ry="1.8" fill="rgb(155,155,155)" filter="url(#g1.0)" transform="rotate(63.1 239.7 155.5)"/>
<ellipse cx="206.1" cy="175.1" rx="2.5" ry="1.8" fill="rgb(142,142,142)" filter="url(#g1.0)" transform="rotate(49.9 206.1 175.1)"/>
<ellipse cx="231.9" cy="165.2" rx="3.4" ry="1.8" fill="rgb(152,152,152)" filter="url(#g1.0)" transform="rotate(55.4 231.9 165.2)"/>
<ellipse cx="206.6" cy="156.2" rx="3.1" ry="1.8" fill="rgb(150,150,150)" filter="url(#g1.0)" transform="rotate(57.2 206.6 156.2)"/>
<ellipse cx="232.9" cy="171.7" rx="4.0" ry="1.8" fill="rgb(149,149,149)" filter="url(#g1.0)" transform="rotate(59.3 232.9 171.7)"/>
<ellipse cx="204.9" cy="159.5" rx="4.1" ry="1.8" fill="rgb(147,147,147)" filter="url(#g1.0)" transform="rotate(64.2 204.9 159.5)"/>
<ellipse cx="210.5" cy="167.1" rx="3.5" ry="1.8" fill="rgb(139,139,139)" filter="url(#g1.0)" transform="rotate(67.6 210.5 167.1)"/>
<ellipse cx="226.7" cy="161.6" rx="2.6" ry="1.6" fill="rgb(124,124,124)" filter="url(#g1.0)" transform="rotate(-45.5 226.7 161.6)"/>
<ellipse cx="204.9" cy="173.6" rx="3.8" ry="1.6" fill="rgb(118,118,118)" filter="url(#g1.0)" transform="rotate(-62.9 204.9 173.6)"/>
<ellipse cx="211.4" cy="168.8" rx="2.7" ry="1.6" fill="rgb(131,131,131)" filter="url(#g1.0)" transform="rotate(-61.5 211.4 168.8)"/>
<ellipse cx="243.4" cy="167.9" rx="2.7" ry="1.6" fill="rgb(125,125,125)" filter="url(#g1.0)" transform="rotate(-61.4 243.4 167.9)"/>
<ellipse cx="242.2" cy="158.1" rx="3.3" ry="1.6" fill="rgb(126,126,126)" filter="url(#g1.0)" transform="rotate(-60.9 242.2 158.1)"/>
<ellipse cx="219.4" cy="170.8" rx="3.1" ry="1.6" fill="rgb(131,131,131)" filter="url(#g1.0)" transform="rotate(-70.3 219.4 170.8)"/>
<ellipse cx="207.1" cy="169.7" rx="3.5" ry="1.6" fill="rgb(134,134,134)" filter="url(#g1.0)" transform="rotate(-57.0 207.1 169.7)"/>
<ellipse cx="243.0" cy="173.4" rx="3.9" ry="1.6" fill="rgb(137,137,137)" filter="url(#g1.0)" transform="rotate(-52.8 243.0 173.4)"/>
<ellipse cx="218.8" cy="151.6" rx="3.5" ry="1.6" fill="rgb(130,130,130)" filter="url(#g1.0)" transform="rotate(-57.9 218.8 151.6)"/>
<ellipse cx="204.3" cy="175.5" rx="3.1" ry="1.6" fill="rgb(119,119,119)" filter="url(#g1.0)" transform="rotate(-47.1 204.3 175.5)"/>
<ellipse cx="222" cy="163" rx="8" ry="4" fill="rgb(117,117,117)" filter="url(#g2)"/>
<ellipse cx="221.5" cy="169.5" rx="3.5" ry="1.8" fill="rgb(31,31,31)" filter="url(#g1)"/>
<ellipse cx="221" cy="185" rx="6.5" ry="2.6" fill="rgb(33,33,33)" filter="url(#g1.2)"/>
<ellipse cx="238" cy="184" rx="8" ry="3" fill="rgb(41,41,41)" filter="url(#g1.5)"/>
<ellipse cx="236" cy="156" rx="4" ry="4" fill="rgb(33,33,33)" filter="url(#g1.5)"/>
<ellipse cx="197" cy="164" rx="6" ry="6" fill="rgb(33,33,33)" filter="url(#g2)"/>
<polygon points="203,140 233.5,140 231,149 224,156 212,156 205,149" fill="rgb(153,153,153)" filter="url(#g1.3)"/>
<polygon points="206,140 231,140 228,146.5 218.5,152.5 209,146.5" fill="rgb(189,189,189)" filter="url(#g0.9)"/>
<g filter="url(#g0.6)"><g clip-path="url(#cHot)">
<ellipse cx="205.0" cy="145" rx="6" ry="1.2" fill="rgb(224,224,224)" transform="rotate(62 205.0 145)"/>
<ellipse cx="209.4" cy="145" rx="6" ry="1.2" fill="rgb(224,224,224)" transform="rotate(62 209.4 145)"/>
<ellipse cx="213.8" cy="145" rx="6" ry="1.2" fill="rgb(224,224,224)" transform="rotate(62 213.8 145)"/>
<ellipse cx="218.2" cy="145" rx="6" ry="1.2" fill="rgb(224,224,224)" transform="rotate(62 218.2 145)"/>
<ellipse cx="222.6" cy="145" rx="6" ry="1.2" fill="rgb(224,224,224)" transform="rotate(62 222.6 145)"/>
<ellipse cx="227.0" cy="145" rx="6" ry="1.2" fill="rgb(224,224,224)" transform="rotate(62 227.0 145)"/>
<ellipse cx="231.4" cy="145" rx="6" ry="1.2" fill="rgb(224,224,224)" transform="rotate(62 231.4 145)"/>
</g></g>
<ellipse cx="283" cy="184" rx="11" ry="6" fill="rgb(97,97,97)" filter="url(#g2)"/>
<ellipse cx="213" cy="182" rx="14" ry="5" fill="rgb(92,92,92)" filter="url(#g2)"/>
<rect x="202" y="186.5" width="93" height="22" rx="8" fill="rgb(97,97,97)" filter="url(#g2)"/>
<rect x="209" y="189.5" width="75" height="15" rx="7" fill="rgb(153,153,153)" filter="url(#g1.2)"/>
<polygon points="266,190 283,189 286,197 282,204 268,203" fill="rgb(140,140,140)" filter="url(#g1.5)"/>
<rect x="213" y="190.5" width="67" height="12.5" rx="6" fill="rgb(184,184,184)" filter="url(#g1.2)"/>
<rect x="218" y="192" width="59" height="9.5" rx="4.5" fill="rgb(212,212,212)" filter="url(#g1.2)"/>
<rect x="230" y="193.5" width="42" height="7" rx="3" fill="rgb(224,224,224)" filter="url(#g1.2)"/>
<ellipse cx="250" cy="211" rx="14" ry="2" fill="rgb(92,92,92)" filter="url(#g1.2)" transform="rotate(-15 250 211)"/>
<ellipse cx="272" cy="208" rx="12" ry="2" fill="rgb(84,84,84)" filter="url(#g1.2)" transform="rotate(-10 272 208)"/>
<ellipse cx="228" cy="216" rx="5" ry="1.5" fill="rgb(76,76,76)" filter="url(#g1)"/>
<ellipse cx="267.1" cy="229.3" rx="2.0" ry="1.1" fill="rgb(83,83,83)" filter="url(#g0.8)" transform="rotate(-56.8 267.1 229.3)"/>
<ellipse cx="203.1" cy="228.5" rx="2.0" ry="1.1" fill="rgb(98,98,98)" filter="url(#g0.8)" transform="rotate(-51.9 203.1 228.5)"/>
<ellipse cx="277.4" cy="229.6" rx="2.3" ry="1.1" fill="rgb(115,115,115)" filter="url(#g0.8)" transform="rotate(-58.4 277.4 229.6)"/>
<ellipse cx="290.0" cy="225.5" rx="1.8" ry="1.1" fill="rgb(101,101,101)" filter="url(#g0.8)" transform="rotate(-46.7 290.0 225.5)"/>
<ellipse cx="224.7" cy="230.2" rx="2.2" ry="1.1" fill="rgb(116,116,116)" filter="url(#g0.8)" transform="rotate(-58.4 224.7 230.2)"/>
<ellipse cx="277.7" cy="225.3" rx="2.4" ry="1.1" fill="rgb(91,91,91)" filter="url(#g0.8)" transform="rotate(-66.4 277.7 225.3)"/>
<ellipse cx="216.2" cy="228.1" rx="1.6" ry="1.1" fill="rgb(91,91,91)" filter="url(#g0.8)" transform="rotate(-54.1 216.2 228.1)"/>
<ellipse cx="206.1" cy="224.3" rx="1.8" ry="1.1" fill="rgb(83,83,83)" filter="url(#g0.8)" transform="rotate(-70.5 206.1 224.3)"/>
<ellipse cx="240.8" cy="225.8" rx="2.8" ry="1.1" fill="rgb(85,85,85)" filter="url(#g0.8)" transform="rotate(-72.8 240.8 225.8)"/>
<ellipse cx="226.8" cy="222.2" rx="2.7" ry="1.1" fill="rgb(97,97,97)" filter="url(#g0.8)" transform="rotate(-45.4 226.8 222.2)"/>
<ellipse cx="276.6" cy="229.8" rx="2.3" ry="1.1" fill="rgb(94,94,94)" filter="url(#g0.8)" transform="rotate(-52.0 276.6 229.8)"/>
<ellipse cx="234.3" cy="229.8" rx="2.9" ry="1.1" fill="rgb(94,94,94)" filter="url(#g0.8)" transform="rotate(-52.2 234.3 229.8)"/>
<ellipse cx="281.2" cy="231.0" rx="2.2" ry="1.1" fill="rgb(89,89,89)" filter="url(#g0.8)" transform="rotate(-59.6 281.2 231.0)"/>
<ellipse cx="230.7" cy="222.6" rx="2.5" ry="1.1" fill="rgb(84,84,84)" filter="url(#g0.8)" transform="rotate(-52.8 230.7 222.6)"/>
<ellipse cx="302.8" cy="225.6" rx="1.8" ry="1.1" fill="rgb(96,96,96)" filter="url(#g0.8)" transform="rotate(-61.4 302.8 225.6)"/>
<ellipse cx="209.6" cy="224.3" rx="2.0" ry="1.1" fill="rgb(98,98,98)" filter="url(#g0.8)" transform="rotate(-54.5 209.6 224.3)"/>
<ellipse cx="260.8" cy="229.7" rx="1.5" ry="1.1" fill="rgb(98,98,98)" filter="url(#g0.8)" transform="rotate(-65.5 260.8 229.7)"/>
<ellipse cx="241.6" cy="227.9" rx="1.8" ry="1.1" fill="rgb(115,115,115)" filter="url(#g0.8)" transform="rotate(-45.8 241.6 227.9)"/>
<ellipse cx="283.0" cy="227.3" rx="2.7" ry="1.1" fill="rgb(106,106,106)" filter="url(#g0.8)" transform="rotate(-42.6 283.0 227.3)"/>
<ellipse cx="244.4" cy="224.5" rx="2.3" ry="1.1" fill="rgb(99,99,99)" filter="url(#g0.8)" transform="rotate(-68.2 244.4 224.5)"/>
<ellipse cx="264.7" cy="228.6" rx="1.9" ry="1.1" fill="rgb(87,87,87)" filter="url(#g0.8)" transform="rotate(-58.9 264.7 228.6)"/>
<ellipse cx="270.8" cy="228.7" rx="1.5" ry="1.1" fill="rgb(89,89,89)" filter="url(#g0.8)" transform="rotate(-47.9 270.8 228.7)"/>
<ellipse cx="264.7" cy="229.1" rx="2.6" ry="1.1" fill="rgb(103,103,103)" filter="url(#g0.8)" transform="rotate(-51.4 264.7 229.1)"/>
<ellipse cx="219.4" cy="227.6" rx="2.4" ry="1.1" fill="rgb(114,114,114)" filter="url(#g0.8)" transform="rotate(-60.1 219.4 227.6)"/>
<ellipse cx="252.3" cy="222.2" rx="2.5" ry="1.1" fill="rgb(113,113,113)" filter="url(#g0.8)" transform="rotate(-62.2 252.3 222.2)"/>
<ellipse cx="246.8" cy="225.0" rx="3.0" ry="1.1" fill="rgb(92,92,92)" filter="url(#g0.8)" transform="rotate(-59.2 246.8 225.0)"/>
<ellipse cx="243.8" cy="227.1" rx="1.5" ry="1.1" fill="rgb(110,110,110)" filter="url(#g0.8)" transform="rotate(-69.1 243.8 227.1)"/>
<ellipse cx="295.7" cy="230.6" rx="2.9" ry="1.1" fill="rgb(106,106,106)" filter="url(#g0.8)" transform="rotate(-68.8 295.7 230.6)"/>
<ellipse cx="209.3" cy="225.4" rx="1.8" ry="1.1" fill="rgb(116,116,116)" filter="url(#g0.8)" transform="rotate(-72.0 209.3 225.4)"/>
<ellipse cx="268.7" cy="223.5" rx="2.4" ry="1.1" fill="rgb(85,85,85)" filter="url(#g0.8)" transform="rotate(-60.4 268.7 223.5)"/>
<ellipse cx="281.4" cy="225.9" rx="2.7" ry="1.1" fill="rgb(100,100,100)" filter="url(#g0.8)" transform="rotate(-50.3 281.4 225.9)"/>
<ellipse cx="239.2" cy="225.4" rx="2.3" ry="1.1" fill="rgb(92,92,92)" filter="url(#g0.8)" transform="rotate(-71.2 239.2 225.4)"/>
<ellipse cx="214.1" cy="228.6" rx="2.1" ry="1.1" fill="rgb(101,101,101)" filter="url(#g0.8)" transform="rotate(-58.3 214.1 228.6)"/>
<ellipse cx="294.5" cy="225.0" rx="2.9" ry="1.1" fill="rgb(87,87,87)" filter="url(#g0.8)" transform="rotate(-61.9 294.5 225.0)"/>
<ellipse cx="259.4" cy="227.0" rx="2.8" ry="1.1" fill="rgb(84,84,84)" filter="url(#g0.8)" transform="rotate(-61.6 259.4 227.0)"/>
<ellipse cx="249.8" cy="226.8" rx="2.3" ry="1.1" fill="rgb(96,96,96)" filter="url(#g0.8)" transform="rotate(-70.0 249.8 226.8)"/>
<ellipse cx="208.5" cy="224.8" rx="2.2" ry="1.1" fill="rgb(116,116,116)" filter="url(#g0.8)" transform="rotate(-68.0 208.5 224.8)"/>
<ellipse cx="248.1" cy="226.3" rx="2.3" ry="1.1" fill="rgb(110,110,110)" filter="url(#g0.8)" transform="rotate(-56.8 248.1 226.3)"/>
<ellipse cx="288.6" cy="225.3" rx="2.5" ry="1.1" fill="rgb(104,104,104)" filter="url(#g0.8)" transform="rotate(-74.2 288.6 225.3)"/>
<ellipse cx="244.7" cy="225.9" rx="3.0" ry="1.1" fill="rgb(103,103,103)" filter="url(#g0.8)" transform="rotate(-51.9 244.7 225.9)"/>
<ellipse cx="243" cy="225" rx="5" ry="1.2" fill="rgb(153,153,153)" filter="url(#g0.8)"/>
</g></g>
<g clip-path="url(#cD)"><g filter="url(#jet)">
<rect x="354.1" y="11.7" width="130.4" height="101.4" fill="rgb(5,5,5)"/>
<rect x="329.3" y="-27.599999999999994" width="180" height="180" fill="#000" filter="url(#tD)" transform="rotate(-60 419.3 62.400000000000006)"/>
<polygon points="362,26 402,24 404,40 398,47 362,47" fill="rgb(23,23,23)" filter="url(#g2.5)"/>
<ellipse cx="369.0" cy="35" rx="10" ry="1.6" fill="rgb(51,51,51)" filter="url(#g1.4)" transform="rotate(55 369.0 35)"/>
<ellipse cx="377.5" cy="34" rx="10" ry="1.6" fill="rgb(59,59,59)" filter="url(#g1.4)" transform="rotate(55 377.5 34)"/>
<ellipse cx="384.0" cy="33" rx="10" ry="1.6" fill="rgb(51,51,51)" filter="url(#g1.4)" transform="rotate(55 384.0 33)"/>
<ellipse cx="392.5" cy="35" rx="10" ry="1.6" fill="rgb(59,59,59)" filter="url(#g1.4)" transform="rotate(55 392.5 35)"/>
<ellipse cx="399.0" cy="34" rx="10" ry="1.6" fill="rgb(51,51,51)" filter="url(#g1.4)" transform="rotate(55 399.0 34)"/>
<ellipse cx="369.0" cy="35" rx="10" ry="1.6" fill="rgb(59,59,59)" filter="url(#g1.4)" transform="rotate(-55 369.0 35)"/>
<ellipse cx="375.5" cy="36" rx="10" ry="1.6" fill="rgb(51,51,51)" filter="url(#g1.4)" transform="rotate(-55 375.5 36)"/>
<ellipse cx="384.0" cy="35" rx="10" ry="1.6" fill="rgb(59,59,59)" filter="url(#g1.4)" transform="rotate(-55 384.0 35)"/>
<ellipse cx="390.5" cy="36" rx="10" ry="1.6" fill="rgb(51,51,51)" filter="url(#g1.4)" transform="rotate(-55 390.5 36)"/>
<ellipse cx="399.0" cy="35" rx="10" ry="1.6" fill="rgb(59,59,59)" filter="url(#g1.4)" transform="rotate(-55 399.0 35)"/>
<ellipse cx="361" cy="33" rx="1.5" ry="10" fill="rgb(36,36,36)" filter="url(#g1.5)"/>
<ellipse cx="392" cy="42" rx="6" ry="2" fill="rgb(64,64,64)" filter="url(#g1.2)"/>
<ellipse cx="378" cy="30" rx="3" ry="2" fill="rgb(71,71,71)" filter="url(#g1)"/>
<ellipse cx="393" cy="29" rx="3" ry="2.5" fill="rgb(71,71,71)" filter="url(#g1)"/>
<ellipse cx="393" cy="29" rx="3" ry="2.5" fill="rgb(56,56,56)" filter="url(#g1.2)"/>
<ellipse cx="392" cy="45" rx="32" ry="3" fill="rgb(31,31,31)" filter="url(#g2)"/>
<ellipse cx="393" cy="48.2" rx="9" ry="1.7" fill="rgb(107,107,107)" filter="url(#g1)"/>
<polygon points="423,24 445,21 473,21.5 475,28.5 460,30.5 425,30.5" fill="rgb(51,51,51)" filter="url(#g2)"/>
<ellipse cx="452" cy="26" rx="19" ry="3.4" fill="rgb(82,82,82)" filter="url(#g1.5)"/>
<ellipse cx="449" cy="26.5" rx="6.5" ry="2.2" fill="rgb(133,133,133)" filter="url(#g1)"/>
<ellipse cx="465" cy="26.5" rx="4.5" ry="1.6" fill="rgb(97,97,97)" filter="url(#g1)"/>
<ellipse cx="432" cy="37" rx="7" ry="1.5" fill="rgb(46,46,46)" filter="url(#g1.4)" transform="rotate(55 432 37)"/>
<ellipse cx="440" cy="36" rx="7" ry="1.5" fill="rgb(46,46,46)" filter="url(#g1.4)" transform="rotate(55 440 36)"/>
<ellipse cx="448" cy="37" rx="7" ry="1.5" fill="rgb(46,46,46)" filter="url(#g1.4)" transform="rotate(55 448 37)"/>
<ellipse cx="456" cy="36" rx="7" ry="1.5" fill="rgb(46,46,46)" filter="url(#g1.4)" transform="rotate(55 456 36)"/>
<ellipse cx="464" cy="37" rx="7" ry="1.5" fill="rgb(46,46,46)" filter="url(#g1.4)" transform="rotate(55 464 37)"/>
<ellipse cx="432" cy="37" rx="7" ry="1.5" fill="rgb(46,46,46)" filter="url(#g1.4)" transform="rotate(-55 432 37)"/>
<ellipse cx="440" cy="38" rx="7" ry="1.5" fill="rgb(46,46,46)" filter="url(#g1.4)" transform="rotate(-55 440 38)"/>
<ellipse cx="448" cy="37" rx="7" ry="1.5" fill="rgb(46,46,46)" filter="url(#g1.4)" transform="rotate(-55 448 37)"/>
<ellipse cx="456" cy="38" rx="7" ry="1.5" fill="rgb(46,46,46)" filter="url(#g1.4)" transform="rotate(-55 456 38)"/>
<ellipse cx="464" cy="37" rx="7" ry="1.5" fill="rgb(46,46,46)" filter="url(#g1.4)" transform="rotate(-55 464 37)"/>
<ellipse cx="440" cy="40.5" rx="6" ry="1.8" fill="rgb(56,56,56)" filter="url(#g1.2)"/>
<ellipse cx="432" cy="45" rx="12" ry="2.5" fill="rgb(26,26,26)" filter="url(#g2)"/>
<polygon points="381,61 398,60 418,68 432,77 430,83 384,82 374,76" fill="rgb(56,56,56)" filter="url(#g2.2)"/>
<polygon points="386,63 399,62.5 416,70 428,77 426,81 388,79 380,75" fill="rgb(97,97,97)" filter="url(#g1.6)"/>
<ellipse cx="410" cy="75.5" rx="10" ry="2.6" fill="rgb(117,117,117)" filter="url(#g1.4)" transform="rotate(8 410 75.5)"/>
<ellipse cx="397" cy="71.5" rx="10" ry="5" fill="rgb(143,143,143)" filter="url(#g1.5)"/>
<ellipse cx="396.5" cy="71.2" rx="6" ry="3.2" fill="rgb(161,161,161)" filter="url(#g1)"/>
<ellipse cx="455" cy="67" rx="9" ry="6" fill="rgb(38,38,38)" filter="url(#g2)"/>
<ellipse cx="455" cy="66.5" rx="6" ry="3.5" fill="rgb(87,87,87)" filter="url(#g1.5)"/>
<polygon points="440,74.5 477,74 478,81 440,81.5" fill="rgb(71,71,71)" filter="url(#g1.6)"/>
<ellipse cx="460" cy="77.5" rx="12" ry="2" fill="rgb(87,87,87)" filter="url(#g1.2)"/>
<ellipse cx="367" cy="91" rx="7" ry="3" fill="rgb(36,36,36)" filter="url(#g2)"/>
<ellipse cx="422" cy="88" rx="4" ry="3" fill="rgb(38,38,38)" filter="url(#g2)"/>
<ellipse cx="370" cy="103" rx="9" ry="4" fill="rgb(26,26,26)" filter="url(#g2)"/>
<ellipse cx="443" cy="104" rx="2.5" ry="2.2" fill="rgb(133,133,133)" filter="url(#g1)"/>
<ellipse cx="436" cy="101" rx="5" ry="1" fill="rgb(76,76,76)" filter="url(#g0.8)"/>
<ellipse cx="452" cy="104" rx="5" ry="1" fill="rgb(64,64,64)" filter="url(#g0.8)"/>
<ellipse cx="415" cy="88" rx="4" ry="2.5" fill="rgb(46,46,46)" filter="url(#g1.5)"/>
<ellipse cx="398" cy="101" rx="4" ry="1.2" fill="rgb(56,56,56)" filter="url(#g1)"/>
<ellipse cx="420" cy="103" rx="3" ry="1.2" fill="rgb(56,56,56)" filter="url(#g1)"/>
<ellipse cx="366" cy="104" rx="2" ry="1.5" fill="rgb(76,76,76)" filter="url(#g0.8)"/>
<ellipse cx="375" cy="100" rx="2" ry="1.5" fill="rgb(64,64,64)" filter="url(#g0.8)"/>
<ellipse cx="385" cy="103" rx="2" ry="1.5" fill="rgb(76,76,76)" filter="url(#g0.8)"/>
</g></g>
<g clip-path="url(#cE)"><g filter="url(#jet)">
<rect x="355.3" y="135.8" width="130.6" height="100.6" fill="rgb(41,41,41)"/>
<rect x="330.6" y="96.10000000000002" width="180" height="180" fill="#000" filter="url(#tE)" transform="rotate(-60 420.6 186.10000000000002)"/>
<ellipse cx="450" cy="158" rx="10" ry="8" fill="rgb(26,26,26)" filter="url(#g3)"/>
<ellipse cx="368" cy="178" rx="5" ry="4" fill="rgb(26,26,26)" filter="url(#g2)"/>
<ellipse cx="414" cy="162" rx="5" ry="3" fill="rgb(26,26,26)" filter="url(#g2)"/>
<ellipse cx="443" cy="207" rx="3" ry="3" fill="rgb(26,26,26)" filter="url(#g1.5)"/>
<ellipse cx="400" cy="215" rx="12" ry="5" fill="rgb(28,28,28)" filter="url(#g3)"/>
<polygon points="372,144 412,142 416,150 404,158 380,158 370,152" fill="rgb(76,76,76)" filter="url(#g2.2)"/>
<ellipse cx="376" cy="148.0" rx="5.5" ry="1.8" fill="rgb(97,97,97)" filter="url(#g1.3)" transform="rotate(55 376 148.0)"/>
<ellipse cx="385" cy="149.5" rx="5.5" ry="1.8" fill="rgb(102,102,102)" filter="url(#g1.3)" transform="rotate(61 385 149.5)"/>
<ellipse cx="390" cy="151.0" rx="5.5" ry="1.8" fill="rgb(97,97,97)" filter="url(#g1.3)" transform="rotate(67 390 151.0)"/>
<ellipse cx="399" cy="148.0" rx="5.5" ry="1.8" fill="rgb(102,102,102)" filter="url(#g1.3)" transform="rotate(55 399 148.0)"/>
<ellipse cx="404" cy="149.5" rx="5.5" ry="1.8" fill="rgb(97,97,97)" filter="url(#g1.3)" transform="rotate(61 404 149.5)"/>
<ellipse cx="378" cy="150" rx="5" ry="1.8" fill="rgb(92,92,92)" filter="url(#g1.3)" transform="rotate(-55 378 150)"/>
<ellipse cx="383" cy="148" rx="5" ry="1.8" fill="rgb(92,92,92)" filter="url(#g1.3)" transform="rotate(-55 383 148)"/>
<ellipse cx="392" cy="150" rx="5" ry="1.8" fill="rgb(92,92,92)" filter="url(#g1.3)" transform="rotate(-55 392 150)"/>
<ellipse cx="397" cy="148" rx="5" ry="1.8" fill="rgb(92,92,92)" filter="url(#g1.3)" transform="rotate(-55 397 148)"/>
<ellipse cx="389" cy="163" rx="2.5" ry="7" fill="rgb(71,71,71)" filter="url(#g1.5)" transform="rotate(-15 389 163)"/>
<ellipse cx="432" cy="155" rx="2.5" ry="2.5" fill="rgb(82,82,82)" filter="url(#g1.2)"/>
<ellipse cx="426" cy="162" rx="2" ry="2" fill="rgb(76,76,76)" filter="url(#g1.2)"/>
<ellipse cx="367" cy="170" rx="4" ry="2" fill="rgb(71,71,71)" filter="url(#g1.6)"/>
<ellipse cx="414" cy="172" rx="4" ry="2" fill="rgb(71,71,71)" filter="url(#g1.6)"/>
<polygon points="378,176 402,172 420,178 445,180 445,188 378,188" fill="rgb(69,69,69)" filter="url(#g2.5)"/>
<ellipse cx="441" cy="181" rx="9" ry="2.2" fill="rgb(87,87,87)" filter="url(#g1.4)"/>
<polygon points="376,191 392,186 410,188 430,186.5 462,187 471,192 468,200 450,203 420,202 398,206 380,202" fill="rgb(92,92,92)" filter="url(#g2)"/>
<ellipse cx="395" cy="196.8" rx="10" ry="5" fill="rgb(115,115,115)" filter="url(#g1.6)"/>
<ellipse cx="395" cy="196.8" rx="5.5" ry="3" fill="rgb(138,138,138)" filter="url(#g1.2)"/>
<ellipse cx="441" cy="194" rx="12" ry="4" fill="rgb(115,115,115)" filter="url(#g1.6)"/>
<ellipse cx="441" cy="194" rx="5.5" ry="2.2" fill="rgb(135,135,135)" filter="url(#g1.1)"/>
<ellipse cx="465" cy="204" rx="8" ry="2.5" fill="rgb(82,82,82)" filter="url(#g1.8)" transform="rotate(30 465 204)"/>
<ellipse cx="473" cy="211" rx="5" ry="2" fill="rgb(76,76,76)" filter="url(#g1.5)" transform="rotate(50 473 211)"/>
<ellipse cx="443" cy="207" rx="3" ry="3" fill="rgb(26,26,26)" filter="url(#g1.2)"/>
<g filter="url(#g0.8)"><polygon points="380,230 382,219 391,219 392,230 390.5,230 389.5,221 383.5,221 382.5,230" fill="rgb(76,76,76)"/></g>
<ellipse cx="400.5" cy="226.7" rx="2.9" ry="1" fill="rgb(95,95,95)" filter="url(#g0.8)" transform="rotate(-48.4 400.5 226.7)"/>
<ellipse cx="361.1" cy="226.6" rx="2.9" ry="1" fill="rgb(91,91,91)" filter="url(#g0.8)" transform="rotate(-56.1 361.1 226.6)"/>
<ellipse cx="456.1" cy="224.3" rx="3.0" ry="1" fill="rgb(77,77,77)" filter="url(#g0.8)" transform="rotate(-60.0 456.1 224.3)"/>
<ellipse cx="366.1" cy="223.2" rx="2.4" ry="1" fill="rgb(84,84,84)" filter="url(#g0.8)" transform="rotate(-52.4 366.1 223.2)"/>
<ellipse cx="440.4" cy="224.3" rx="2.1" ry="1" fill="rgb(76,76,76)" filter="url(#g0.8)" transform="rotate(-66.7 440.4 224.3)"/>
<ellipse cx="391.4" cy="230.7" rx="2.9" ry="1" fill="rgb(73,73,73)" filter="url(#g0.8)" transform="rotate(-63.2 391.4 230.7)"/>
<ellipse cx="442.9" cy="224.2" rx="2.6" ry="1" fill="rgb(77,77,77)" filter="url(#g0.8)" transform="rotate(-46.4 442.9 224.2)"/>
<ellipse cx="440.0" cy="229.7" rx="2.2" ry="1" fill="rgb(70,70,70)" filter="url(#g0.8)" transform="rotate(-50.9 440.0 229.7)"/>
<ellipse cx="393.4" cy="229.8" rx="1.8" ry="1" fill="rgb(85,85,85)" filter="url(#g0.8)" transform="rotate(-49.7 393.4 229.8)"/>
<ellipse cx="375.1" cy="228.1" rx="2.3" ry="1" fill="rgb(92,92,92)" filter="url(#g0.8)" transform="rotate(-73.1 375.1 228.1)"/>
<ellipse cx="401.5" cy="224.2" rx="2.3" ry="1" fill="rgb(71,71,71)" filter="url(#g0.8)" transform="rotate(-68.9 401.5 224.2)"/>
<ellipse cx="406.3" cy="224.4" rx="2.9" ry="1" fill="rgb(68,68,68)" filter="url(#g0.8)" transform="rotate(-57.2 406.3 224.4)"/>
<ellipse cx="418.3" cy="229.9" rx="2.0" ry="1" fill="rgb(95,95,95)" filter="url(#g0.8)" transform="rotate(-55.0 418.3 229.9)"/>
<ellipse cx="454.9" cy="224.7" rx="1.7" ry="1" fill="rgb(75,75,75)" filter="url(#g0.8)" transform="rotate(-47.6 454.9 224.7)"/>
<ellipse cx="394.7" cy="225.3" rx="2.7" ry="1" fill="rgb(71,71,71)" filter="url(#g0.8)" transform="rotate(-70.2 394.7 225.3)"/>
<ellipse cx="364.6" cy="225.3" rx="2.1" ry="1" fill="rgb(75,75,75)" filter="url(#g0.8)" transform="rotate(-54.1 364.6 225.3)"/>
<ellipse cx="442.1" cy="227.0" rx="2.5" ry="1" fill="rgb(86,86,86)" filter="url(#g0.8)" transform="rotate(-64.1 442.1 227.0)"/>
<ellipse cx="411.6" cy="225.5" rx="2.2" ry="1" fill="rgb(83,83,83)" filter="url(#g0.8)" transform="rotate(-64.5 411.6 225.5)"/>
<ellipse cx="403.0" cy="224.9" rx="2.2" ry="1" fill="rgb(97,97,97)" filter="url(#g0.8)" transform="rotate(-42.1 403.0 224.9)"/>
<ellipse cx="469.2" cy="225.0" rx="2.6" ry="1" fill="rgb(87,87,87)" filter="url(#g0.8)" transform="rotate(-68.6 469.2 225.0)"/>
<ellipse cx="440.3" cy="228.7" rx="2.8" ry="1" fill="rgb(92,92,92)" filter="url(#g0.8)" transform="rotate(-71.9 440.3 228.7)"/>
<ellipse cx="467.8" cy="225.6" rx="2.7" ry="1" fill="rgb(69,69,69)" filter="url(#g0.8)" transform="rotate(-57.0 467.8 225.6)"/>
<ellipse cx="372.9" cy="224.2" rx="1.6" ry="1" fill="rgb(81,81,81)" filter="url(#g0.8)" transform="rotate(-61.8 372.9 224.2)"/>
<ellipse cx="434.7" cy="224.1" rx="2.9" ry="1" fill="rgb(80,80,80)" filter="url(#g0.8)" transform="rotate(-42.5 434.7 224.1)"/>
<ellipse cx="387.0" cy="228.6" rx="2.2" ry="1" fill="rgb(73,73,73)" filter="url(#g0.8)" transform="rotate(-52.7 387.0 228.6)"/>
<ellipse cx="391.3" cy="225.6" rx="2.6" ry="1" fill="rgb(87,87,87)" filter="url(#g0.8)" transform="rotate(-51.0 391.3 225.6)"/>
<ellipse cx="377.2" cy="230.0" rx="1.8" ry="1" fill="rgb(82,82,82)" filter="url(#g0.8)" transform="rotate(-60.8 377.2 230.0)"/>
<ellipse cx="465.0" cy="229.9" rx="2.4" ry="1" fill="rgb(72,72,72)" filter="url(#g0.8)" transform="rotate(-68.5 465.0 229.9)"/>
<ellipse cx="404.0" cy="223.3" rx="2.1" ry="1" fill="rgb(96,96,96)" filter="url(#g0.8)" transform="rotate(-54.0 404.0 223.3)"/>
<ellipse cx="429.1" cy="225.5" rx="2.3" ry="1" fill="rgb(76,76,76)" filter="url(#g0.8)" transform="rotate(-57.1 429.1 225.5)"/>
</g></g>
<g filter="url(#jet)">
<rect x="310.2" y="17.5" width="11.3" height="89.5" fill="url(#cbar)"/>
<rect x="309.1" y="141.8" width="11.5" height="87.8" fill="url(#cbar)"/>
<rect x="485.3" y="17.9" width="10.5" height="89.2" fill="url(#cbar)"/>
<rect x="484.2" y="142" width="10.6" height="88.3" fill="url(#cbar)"/>
</g>
<text x="171.2" y="15.9" font-size="14.3" fill="#231f20">B</text>
<text x="182.8" y="39.9" font-size="9.6" text-anchor="end" fill="#231f20">20</text>
<text x="182.8" y="76.4" font-size="9.6" text-anchor="end" fill="#231f20">40</text>
<text x="182.8" y="112.7" font-size="9.6" text-anchor="end" fill="#231f20">60</text>
<line x1="184.7" y1="36.5" x2="186" y2="36.5" stroke="#231f20" stroke-width="0.7"/>
<line x1="184.7" y1="73" x2="186" y2="73" stroke="#231f20" stroke-width="0.7"/>
<text x="212.3" y="120.2" font-size="9.6" text-anchor="middle" fill="#231f20">0</text>
<text x="266.2" y="120.2" font-size="9.6" text-anchor="middle" fill="#231f20">0.4</text>
<line x1="212.3" y1="17" x2="212.3" y2="18.3" stroke="#aab" stroke-width="0.6"/>
<line x1="239.25" y1="17" x2="239.25" y2="18.3" stroke="#aab" stroke-width="0.6"/>
<line x1="266.2" y1="17" x2="266.2" y2="18.3" stroke="#aab" stroke-width="0.6"/>
<line x1="293.15" y1="17" x2="293.15" y2="18.3" stroke="#aab" stroke-width="0.6"/>
<text x="171.2" y="137.8" font-size="14.3" fill="#231f20">C</text>
<text x="180.60000000000002" y="164.70000000000002" font-size="9.6" text-anchor="end" fill="#231f20">20</text>
<text x="180.60000000000002" y="200.70000000000002" font-size="9.6" text-anchor="end" fill="#231f20">40</text>
<text x="180.60000000000002" y="236.9" font-size="9.6" text-anchor="end" fill="#231f20">60</text>
<line x1="182.5" y1="161.3" x2="183.8" y2="161.3" stroke="#231f20" stroke-width="0.7"/>
<line x1="182.5" y1="197.3" x2="183.8" y2="197.3" stroke="#231f20" stroke-width="0.7"/>
<text x="210.6" y="243.0" font-size="9.6" text-anchor="middle" fill="#231f20">0</text>
<text x="263.5" y="243.0" font-size="9.6" text-anchor="middle" fill="#231f20">0.4</text>
<line x1="210.6" y1="140.9" x2="210.6" y2="142.20000000000002" stroke="#aab" stroke-width="0.6"/>
<line x1="237.05" y1="140.9" x2="237.05" y2="142.20000000000002" stroke="#aab" stroke-width="0.6"/>
<line x1="263.5" y1="140.9" x2="263.5" y2="142.20000000000002" stroke="#aab" stroke-width="0.6"/>
<line x1="289.95" y1="140.9" x2="289.95" y2="142.20000000000002" stroke="#aab" stroke-width="0.6"/>
<text x="344.5" y="16.7" font-size="14.3" fill="#231f20">D</text>
<text x="355.90000000000003" y="39.9" font-size="9.6" text-anchor="end" fill="#231f20">20</text>
<text x="355.90000000000003" y="76.4" font-size="9.6" text-anchor="end" fill="#231f20">40</text>
<text x="355.90000000000003" y="112.7" font-size="9.6" text-anchor="end" fill="#231f20">60</text>
<line x1="357.8" y1="36.5" x2="359.1" y2="36.5" stroke="#231f20" stroke-width="0.7"/>
<line x1="357.8" y1="73" x2="359.1" y2="73" stroke="#231f20" stroke-width="0.7"/>
<text x="385.7" y="120.10000000000001" font-size="9.6" text-anchor="middle" fill="#231f20">0</text>
<text x="439.4" y="120.10000000000001" font-size="9.6" text-anchor="middle" fill="#231f20">0.4</text>
<line x1="385.7" y1="16.7" x2="385.7" y2="18.0" stroke="#aab" stroke-width="0.6"/>
<line x1="412.54999999999995" y1="16.7" x2="412.54999999999995" y2="18.0" stroke="#aab" stroke-width="0.6"/>
<line x1="439.4" y1="16.7" x2="439.4" y2="18.0" stroke="#aab" stroke-width="0.6"/>
<line x1="466.25" y1="16.7" x2="466.25" y2="18.0" stroke="#aab" stroke-width="0.6"/>
<text x="347.2" y="141.3" font-size="14.3" fill="#231f20">E</text>
<text x="357.1" y="164.70000000000002" font-size="9.6" text-anchor="end" fill="#231f20">20</text>
<text x="357.1" y="200.70000000000002" font-size="9.6" text-anchor="end" fill="#231f20">40</text>
<text x="357.1" y="236.9" font-size="9.6" text-anchor="end" fill="#231f20">60</text>
<line x1="359.0" y1="161.3" x2="360.3" y2="161.3" stroke="#231f20" stroke-width="0.7"/>
<line x1="359.0" y1="197.3" x2="360.3" y2="197.3" stroke="#231f20" stroke-width="0.7"/>
<text x="387.7" y="243.4" font-size="9.6" text-anchor="middle" fill="#231f20">0</text>
<text x="440.5" y="243.4" font-size="9.6" text-anchor="middle" fill="#231f20">0.4</text>
<line x1="387.7" y1="140.8" x2="387.7" y2="142.10000000000002" stroke="#aab" stroke-width="0.6"/>
<line x1="414.1" y1="140.8" x2="414.1" y2="142.10000000000002" stroke="#aab" stroke-width="0.6"/>
<line x1="440.5" y1="140.8" x2="440.5" y2="142.10000000000002" stroke="#aab" stroke-width="0.6"/>
<line x1="466.9" y1="140.8" x2="466.9" y2="142.10000000000002" stroke="#aab" stroke-width="0.6"/>
<text x="231.4" y="11.4" font-size="9.8" textLength="34.3" lengthAdjust="spacingAndGlyphs" fill="#231f20">Awake</text>
<text x="384.2" y="10.8" font-size="9.8" textLength="67.4" lengthAdjust="spacingAndGlyphs" fill="#231f20">Anesthetized</text>
<text x="306.6" y="13.2" font-size="10.3" textLength="23.2" lengthAdjust="spacingAndGlyphs" fill="#231f20">MTP</text>
<text x="322.7" y="23.8" font-size="9.6" fill="#231f20">3</text>
<text x="322.7" y="52" font-size="9.6" fill="#231f20">2</text>
<text x="322.7" y="81.9" font-size="9.6" fill="#231f20">1</text>
<text x="322.7" y="110.1" font-size="9.6" fill="#231f20">0</text>
<text x="480.1" y="13.2" font-size="10.3" textLength="23.2" lengthAdjust="spacingAndGlyphs" fill="#231f20">MTP</text>
<text x="496.9" y="23.8" font-size="9.6" fill="#231f20">3</text>
<text x="496.9" y="52" font-size="9.6" fill="#231f20">2</text>
<text x="496.9" y="81.9" font-size="9.6" fill="#231f20">1</text>
<text x="496.9" y="110.1" font-size="9.6" fill="#231f20">0</text>
<text x="306.5" y="136.6" font-size="10.3" textLength="20.0" lengthAdjust="spacingAndGlyphs" fill="#231f20">PLF</text>
<text x="323.4" y="160.9" font-size="9.9" textLength="14.2" lengthAdjust="spacingAndGlyphs" fill="#231f20">0.6</text>
<text x="323.4" y="187.2" font-size="9.9" textLength="14.2" lengthAdjust="spacingAndGlyphs" fill="#231f20">0.4</text>
<text x="323.4" y="211.7" font-size="9.9" textLength="14.2" lengthAdjust="spacingAndGlyphs" fill="#231f20">0.2</text>
<text x="323.4" y="233.8" font-size="9.9" fill="#231f20">0</text>
<text x="479.7" y="136.6" font-size="10.3" textLength="20.0" lengthAdjust="spacingAndGlyphs" fill="#231f20">PLF</text>
<text x="498.3" y="160.9" font-size="9.9" textLength="14.2" lengthAdjust="spacingAndGlyphs" fill="#231f20">0.6</text>
<text x="498.3" y="187.2" font-size="9.9" textLength="14.2" lengthAdjust="spacingAndGlyphs" fill="#231f20">0.4</text>
<text x="498.3" y="211.7" font-size="9.9" textLength="14.2" lengthAdjust="spacingAndGlyphs" fill="#231f20">0.2</text>
<text x="498.3" y="233.8" font-size="9.9" fill="#231f20">0</text>
<text transform="translate(161.2,157.6) rotate(-90)" font-size="9.8" textLength="78" lengthAdjust="spacingAndGlyphs" fill="#231f20">Frequency (Hz)</text>
<text x="312.4" y="255.3" font-size="9.8" textLength="41.6" lengthAdjust="spacingAndGlyphs" fill="#231f20">Time (s)</text>
<text x="539.0" y="10.9" font-size="13.5" fill="#231f20">F</text>
<g stroke="#231f20" stroke-width="0.9" fill="none">
<polyline points="555.6,17.6 555.6,108.1 675.8,108.1"/>
<line x1="555.6" y1="59.8" x2="557.3" y2="59.8"/>
<rect x="573.7" y="32.7" width="23.9" height="75.39999999999999" fill="#fff"/>
</g>
<rect x="633.7" y="88.3" width="24" height="19.799999999999997" fill="#231815"/>
<text x="552.8" y="112.6" font-size="11" text-anchor="end" fill="#231f20">0</text>
<text x="553.4" y="64.8" font-size="11" text-anchor="end" fill="#231f20">2</text>
<text x="568.3" y="120.8" font-size="10.2" textLength="34.3" lengthAdjust="spacing" fill="#231f20">Awake</text>
<text x="617.9" y="120.8" font-size="10.2" textLength="66.6" lengthAdjust="spacing" fill="#231f20">Anesthetized</text>
<text transform="translate(536.7,75.3) rotate(-90)" font-size="11" textLength="23.9" lengthAdjust="spacing" fill="#231f20">MTP</text>
<text x="539.0" y="139.2" font-size="13.5" fill="#231f20">G</text>
<g stroke="#231f20" stroke-width="0.9" fill="none">
<polyline points="555.6,142.3 555.6,232.4 675.8,232.4"/>
<line x1="555.6" y1="172.6" x2="557.3" y2="172.6"/>
<rect x="573.7" y="157.2" width="23.9" height="75.20000000000002" fill="#fff"/>
</g>
<rect x="633.7" y="194.1" width="24" height="38.30000000000001" fill="#231815"/>
<text x="552.8" y="236.9" font-size="11" text-anchor="end" fill="#231f20">0</text>
<text x="554.8" y="177.6" font-size="11" text-anchor="end" fill="#231f20">0.5</text>
<text x="568.3" y="245.1" font-size="10.2" textLength="34.3" lengthAdjust="spacing" fill="#231f20">Awake</text>
<text x="615.2" y="245.1" font-size="10.2" textLength="66.6" lengthAdjust="spacing" fill="#231f20">Anesthetized</text>
<text transform="translate(535.5,201.0) rotate(-90)" font-size="11" textLength="20.500000000000007" lengthAdjust="spacing" fill="#231f20">PLF</text>
</svg></body></html>
